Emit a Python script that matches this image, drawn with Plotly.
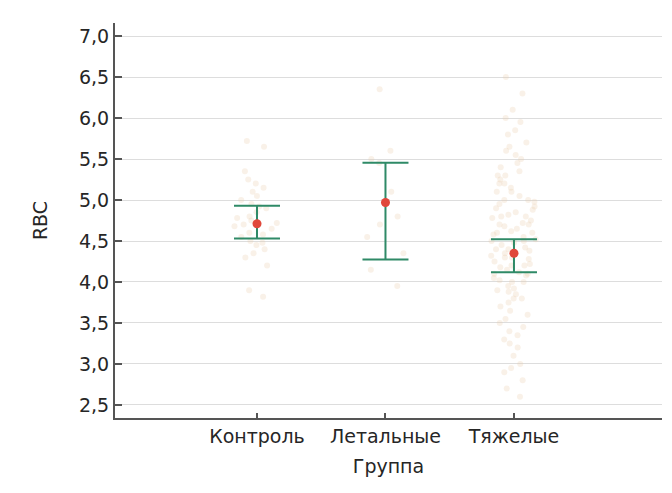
import plotly.graph_objects as go

categories = ["Контроль", "Летальные", "Тяжелые"]

control_vals = [5.72, 5.65, 5.35, 5.25, 5.2, 5.15, 5.1, 5.05, 5.0, 4.95, 4.92, 4.9,
                4.85, 4.8, 4.78, 4.75, 4.72, 4.7, 4.68, 4.65, 4.6, 4.58, 4.55, 4.5,
                4.48, 4.45, 4.4, 4.35, 4.3, 4.2, 3.9, 3.82]
lethal_vals = [6.35, 5.6, 5.5, 5.45, 5.1, 4.95, 4.8, 4.7, 4.55, 4.35, 4.15, 3.95]
severe_vals = [6.5, 6.3, 6.1, 6.0, 5.95, 5.85, 5.8, 5.7, 5.65, 5.6, 5.55, 5.5, 5.45,
               5.4, 5.35, 5.3, 5.3, 5.25, 5.2, 5.2, 5.15, 5.1, 5.1, 5.05, 5.0, 5.0,
               4.98, 4.95, 4.92, 4.9, 4.88, 4.85, 4.82, 4.8, 4.8, 4.78, 4.75, 4.72,
               4.7, 4.7, 4.68, 4.65, 4.62, 4.6, 4.6, 4.58, 4.55, 4.52, 4.5, 4.5,
               4.48, 4.45, 4.42, 4.4, 4.4, 4.38, 4.35, 4.32, 4.3, 4.3, 4.28, 4.25,
               4.22, 4.2, 4.2, 4.18, 4.15, 4.12, 4.1, 4.1, 4.08, 4.05, 4.02, 4.0,
               4.0, 3.95, 3.92, 3.9, 3.88, 3.85, 3.8, 3.8, 3.75, 3.7, 3.65, 3.6,
               3.55, 3.5, 3.45, 3.4, 3.35, 3.3, 3.25, 3.2, 3.1, 3.0, 2.95, 2.9,
               2.8, 2.7, 2.6]

means = [4.71, 4.97, 4.35]
ci_upper = [4.93, 5.455, 4.52]
ci_lower = [4.53, 4.275, 4.12]

y_ticks = [2.5, 3.0, 3.5, 4.0, 4.5, 5.0, 5.5, 6.0, 6.5, 7.0]
y_ticktext = ["2,5", "3,0", "3,5", "4,0", "4,5", "5,0", "5,5", "6,0", "6,5", "7,0"]

font_family = "DejaVu Sans, Liberation Sans, Arial, sans-serif"
text_color = "#262626"

fig = go.Figure()

for cat, vals in zip(categories, [control_vals, lethal_vals, severe_vals]):
    fig.add_trace(go.Box(
        x=[cat] * len(vals), y=vals,
        boxpoints="all", jitter=1.0, pointpos=0, width=0.36,
        fillcolor="rgba(0,0,0,0)",
        line=dict(width=0, color="rgba(0,0,0,0)"),
        marker=dict(color="rgba(232,206,172,0.28)", size=6),
        showlegend=False, hoverinfo="y",
    ))

fig.add_trace(go.Scatter(
    x=categories, y=means, mode="markers",
    marker=dict(color="#e0473a", size=9),
    error_y=dict(type="data", symmetric=False,
                 array=[u - m for u, m in zip(ci_upper, means)],
                 arrayminus=[m - l for m, l in zip(means, ci_lower)],
                 color="#2f8a67", thickness=2, width=23),
    showlegend=False,
))

fig.update_layout(
    width=672, height=493,
    margin=dict(l=115, r=10, t=23, b=75),
    paper_bgcolor="white", plot_bgcolor="white",
    boxmode="overlay",
    font=dict(family=font_family, size=19, color=text_color),
)

fig.update_xaxes(
    type="category", categoryorder="array", categoryarray=categories,
    range=[-1.105, 3.152],
    showline=True, linecolor="#555555", linewidth=2,
    ticks="inside", ticklen=5, tickwidth=1.5, tickcolor="#555555",
    showgrid=False, zeroline=False,
    tickfont=dict(size=19, color=text_color),
    title=dict(text="Группа", font=dict(size=19, color=text_color), standoff=14),
)

fig.update_yaxes(
    range=[2.341, 7.159],
    tickvals=y_ticks, ticktext=y_ticktext,
    showline=True, linecolor="#555555", linewidth=2,
    ticks="inside", ticklen=7, tickwidth=1.5, tickcolor="#555555",
    showgrid=True, gridcolor="#dddddd", gridwidth=1,
    zeroline=False,
    tickfont=dict(size=19, color=text_color),
    title=dict(text="RBC", font=dict(size=19, color=text_color), standoff=26),
)

fig.write_html("out.html")
